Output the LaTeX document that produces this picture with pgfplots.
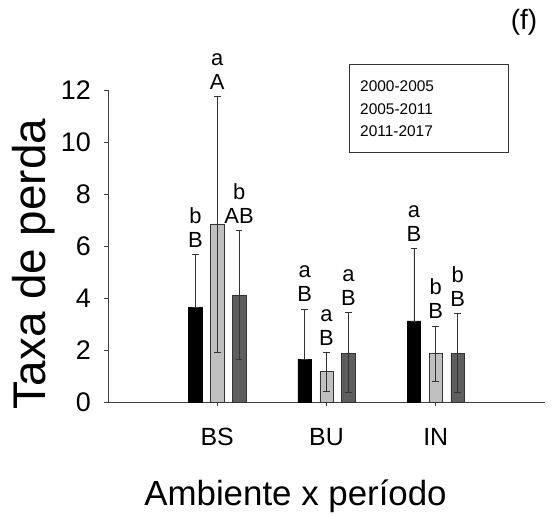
\documentclass[border=0pt]{standalone}
\usepackage{pgfplots}
\pgfplotsset{compat=1.18}
\usepackage{fontspec}
\setmainfont{Liberation Sans}
\definecolor{lgray}{HTML}{C0C0C0}
\definecolor{dgray}{HTML}{5E5E5E}
\begin{document}
\begin{tikzpicture}[x=1bp,y=1bp]
\begin{axis}[
  at={(0,0)}, anchor=south west,
  scale only axis, width=437bp, height=312bp,
  xmin=0, xmax=4, ymin=0, ymax=12,
  axis lines*=left, axis line style={-, line width=0.6pt, black!75},
  clip=false,
  xtick={1,2,3}, xticklabels={BS,BU,IN},
  ytick={0,2,4,6,8,10,12},
  tick align=outside, major tick length=4bp,
  tick style={line width=0.6pt, black!75},
  /pgf/number format/assume math mode=true,
  yticklabel style={font=\fontsize{27}{27}\selectfont, inner sep=0pt, anchor=east, xshift=-13bp},
  xticklabel style={font=\fontsize{25}{25}\selectfont, inner sep=0pt, anchor=base, yshift=-39bp},
  error bars/y dir=both, error bars/y explicit,
  error bars/error bar style={line width=0.6pt, black!80},
  error bars/error mark options={rotate=90, mark size=3.3bp, line width=0.6pt, black!80},
]
\addplot[ybar, bar width=0.123, bar shift=0pt, fill=black, draw=black, line width=0.5pt]
  coordinates {(0.8,3.65) += (0,2.03) -= (0,0)
               (1.8,1.65) += (0,1.93) -= (0,0)
               (2.8,3.12) += (0,2.79) -= (0,0)};
\addplot[ybar, bar width=0.123, bar shift=0pt, fill=lgray, draw=black!80, line width=0.5pt]
  coordinates {(1.0,6.85) += (0,4.90) -= (0,4.93)
               (2.0,1.17) += (0,0.74) -= (0,0.77)
               (3.0,1.87) += (0,1.06) -= (0,1.06)};
\addplot[ybar, bar width=0.123, bar shift=0pt, fill=dgray, draw=black!80, line width=0.5pt]
  coordinates {(1.2,4.10) += (0,2.50) -= (0,2.45)
               (2.2,1.87) += (0,1.58) -= (0,1.50)
               (3.2,1.87) += (0,1.54) -= (0,1.50)};
\tikzset{lab/.style={anchor=south, align=center, inner sep=0pt, yshift=7bp, font=\fontsize{22}{24}\selectfont}}
\node[lab] at (axis cs:0.8,5.68) {b\\B};
\node[lab] at (axis cs:1.0,11.75) {a\\A};
\node[lab] at (axis cs:1.2,6.60) {b\\AB};
\node[lab] at (axis cs:1.8,3.58) {a\\B};
\node[lab] at (axis cs:2.0,1.91) {a\\B};
\node[lab] at (axis cs:2.2,3.45) {a\\B};
\node[lab] at (axis cs:2.8,5.91) {a\\B};
\node[lab] at (axis cs:3.0,2.93) {b\\B};
\node[lab] at (axis cs:3.2,3.41) {b\\B};
\end{axis}
\node[rotate=90, font=\fontsize{46}{46}\selectfont] at (-74bp,138bp) {Taxa de perda};
\node[anchor=base, font=\fontsize{35}{35}\selectfont] at (187.5bp,-103bp) {Ambiente x período};
\node[font=\fontsize{28}{28}\selectfont] at (416bp,380bp) {(f)};
\draw[line width=0.6pt, black!80] (241bp,250bp) rectangle (400bp,338bp);
\node[anchor=base west, font=\fontsize{15.5}{15.5}\selectfont, inner sep=0pt] at (252bp,310bp) {2000-2005};
\node[anchor=base west, font=\fontsize{15.5}{15.5}\selectfont, inner sep=0pt] at (252bp,287bp) {2005-2011};
\node[anchor=base west, font=\fontsize{15.5}{15.5}\selectfont, inner sep=0pt] at (252bp,265bp) {2011-2017};
\pgfresetboundingbox
\path[use as bounding box] (-108bp,-115bp) rectangle (452bp,402bp);
\end{tikzpicture}
\end{document}
